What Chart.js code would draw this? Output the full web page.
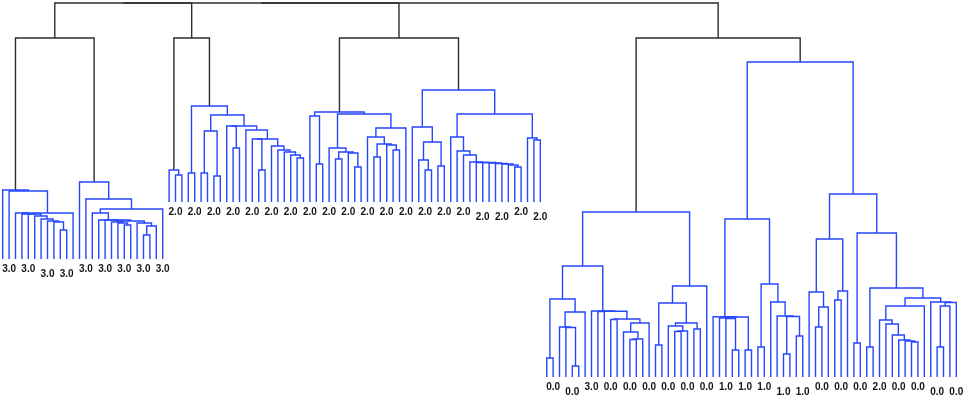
<!DOCTYPE html>
<html>
<head>
<meta charset="utf-8">
<script src="https://cdn.jsdelivr.net/npm/chart.js@4.4.1/dist/chart.umd.min.js"></script>
<style>
  html, body { margin: 0; padding: 0; background: #fff; }
  #wrap { width: 964px; height: 400px; position: relative; }
</style>
</head>
<body>
<div id="wrap"><canvas id="chart"></canvas></div>
<script>
// merges are [height, left, right]; a plain number is a leaf (its position in leaf order)
const c3a = [210, 0, [209, 1, [187, [187, 2, [186, 3, [186, 4, [184, 5, [181, 6, [179, 7, [178, 8, [170, 9, 10]]]]]]]], 11]]];
const c3b = [218, 12, [201, 13, [191, [187, 14, [180, 15, [180, 16, [179, [178, 17, [177, 18, [175, 19, 20]]], [177, 21, [174, [165, 22, 23], 24]]]]]], 25]]];

const c2a = [230, 26, [225, 27, 28]];
const c2bTail = [270, 38, [261, [261, 39, [230, 40, 41]], [254, 42, [250, 43, [248, 44, [245, 45, [242, 46, 47]]]]]]];
const c2b = [294, [227, 29, 30], [285, [269, [227, 31, 32], [224, 33, 34]], [274, [274, 35, [252, 36, 37]], c2bTail]]];
const c2cLeft = [252, 51, [248, [241, 52, 53], [247, 54, [233, 55, 56]]]];
const c2cRight = [272, [263, 57, [256, [243, 58, 59], [255, 60, [250, 61, 62]]]], 63];
const c2c = [288, [284, 48, [236, 49, 50]], [286, c2cLeft, c2cRight]];
const c2dChain = [238, 73, [237.5, 74, [237.5, 75, [237, 76, [236.5, 77, [236, 78, [235, 79, [233, 80, 81]]]]]]]];
const c2d = [310, [273, 64, [258, [240, 65, [230, 66, 67]], [234, 68, 69]]],
                  [286, [263, 70, [249, 71, [245, 72, c2dChain]]], [262, 82, [260, 83, 84]]]];

const c0aLeft = [101, [42, 85, 86], [88, [73, 87, [72.5, 88, [34, 89, 90]]], 91]];
const c0aMid = [89, 92, [88.8, [88.5, 93, 94], [81, [80.5, 95, 96], [77, [68, 97, [61, [60.5, 98, 99], 100]], 101]]]];
const c0aRight = [114, [97, [55, 102, 103], [77, [74, 104, [69, [68.5, 105, 106], 107]], [71, 108, 109]]], 110];
const c0a = [188, [134, c0aLeft, c0aMid], c0aRight];

const c0bL1 = [83.3, 111, [83, [82, 112, [81.5, 113, [50, 114, 115]]], [50, 116, 117]]];
const c0bL2 = [116, [53, 118, 119], [98, 120, [84, 121, [83.5, [46, 122, 123], [64, 124, 125]]]]];
const c0bR1 = [161, [108, 126, [93, [73, 127, 128], 129]], [109, [100, 130, 131], 132]];
const c0bM = [94, [80, 137, [76, 138, [65, 139, [60, 140, [59, 141, [58, 142, 143]]]]]], 144];
const c0bG = [98, 145, [97.5, [94, [53, 146, 147], 148], 149]];
const c0bR2 = [167, [57, 133, 134], [112, [53, 135, 136], [102, c0bM, c0bG]]];
const c0b = [338, [181, c0bL1, c0bL2], [206, c0bR1, c0bR2]];

const groupHeight = 362;
const rootHeight = 397;
const colorThreshold = 350;

// where each run of leaves stops: [first leaf, last leaf, height]
const leafFloor = [[0, 25, 141], [26, 84, 198], [85, 149, 23]];

const tickLeaves = [1, 4, 7, 10, 13, 16, 19, 22, 25,
  27, 30, 33, 36, 39, 42, 45, 48, 51, 54, 57, 60, 63, 66, 69, 72, 75, 78, 81, 84,
  86, 89, 92, 95, 98, 101, 104, 107, 110, 113, 116, 119, 122, 125, 128, 131, 134, 137, 140, 143, 146, 149];
const tickText = ['3.0', '3.0', '3.0', '3.0', '3.0', '3.0', '3.0', '3.0', '3.0',
  '2.0', '2.0', '2.0', '2.0', '2.0', '2.0', '2.0', '2.0', '2.0', '2.0', '2.0', '2.0', '2.0', '2.0', '2.0', '2.0', '2.0', '2.0', '2.0', '2.0',
  '0.0', '0.0', '3.0', '0.0', '0.0', '0.0', '0.0', '0.0', '0.0', '1.0', '1.0', '1.0', '1.0', '1.0', '0.0', '0.0', '0.0', '2.0', '0.0', '0.0', '0.0', '0.0'];
const lowTicks = [7, 10, 75, 78, 84, 89, 122, 125, 146, 149];

const tree = [rootHeight,
  [rootHeight, [rootHeight, [groupHeight, c3a, c3b], [groupHeight, c2a, c2b]], [groupHeight, c2c, c2d]],
  [groupHeight, c0a, c0b]];

function floorOf(leaf) {
  for (const [a, b, h] of leafFloor) {
    if (leaf >= a && leaf <= b) return h;
  }
  return 0;
}

const links = [];
function walk(node) {
  if (typeof node === 'number') return { x: node, h: floorOf(node) };
  const [h, a, b] = node;
  const l = walk(a);
  const r = walk(b);
  links.push({
    h: h,
    pts: [{ x: l.x, y: l.h }, { x: l.x, y: h }, { x: r.x, y: h }, { x: r.x, y: r.h }]
  });
  return { x: (l.x + r.x) / 2, h: h };
}
walk(tree);

const datasets = links.map(link => ({
  data: link.pts,
  showLine: true,
  borderColor: link.h > colorThreshold ? '#2e2e2e' : '#2447ff',
  borderWidth: 1.4,
  pointRadius: 0,
  fill: false,
  tension: 0
}));

const leafTicks = {
  id: 'leafTicks',
  afterDatasetsDraw(chart) {
    const { ctx, scales: { x, y } } = chart;
    ctx.save();
    ctx.font = 'bold 10px "Liberation Sans", Arial, sans-serif';
    ctx.fillStyle = '#151515';
    ctx.textAlign = 'center';
    ctx.textBaseline = 'middle';
    tickLeaves.forEach((leaf, i) => {
      const drop = lowTicks.includes(leaf) ? 15.5 : 10.5;
      ctx.fillText(tickText[i], x.getPixelForValue(leaf), y.getPixelForValue(floorOf(leaf)) + drop);
    });
    ctx.restore();
  }
};

const ctx = document.getElementById('chart').getContext('2d');
new Chart(ctx, {
  type: 'scatter',
  data: { datasets: datasets },
  options: {
    responsive: true,
    maintainAspectRatio: false,
    animation: false,
    layout: { padding: 0 },
    plugins: { legend: { display: false }, tooltip: { enabled: false } },
    scales: {
      x: { type: 'linear', min: -0.42, max: 150.2, display: false },
      y: { type: 'linear', min: 0, max: 400, display: false }
    }
  },
  plugins: [leafTicks]
});
</script>
</body>
</html>
